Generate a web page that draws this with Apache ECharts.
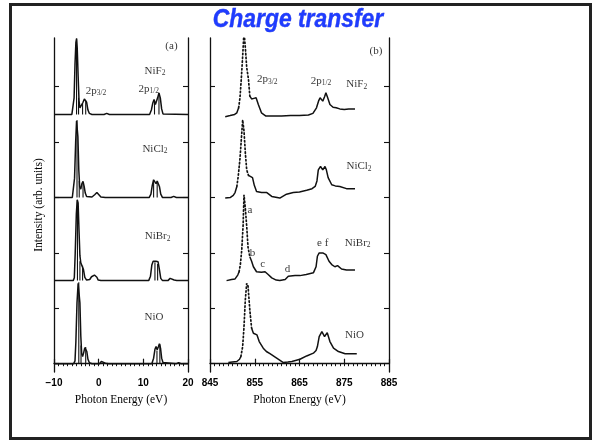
<!DOCTYPE html>
<html>
<head>
<meta charset="utf-8">
<script src="https://cdn.jsdelivr.net/npm/echarts@6/dist/echarts.min.js"></script>
<style>
  html, body { margin: 0; padding: 0; background: #fff; }
  #chart { width: 594px; height: 441px; }
</style>
</head>
<body>
<div id="chart"></div>
<script>
// tick labels
const xTicksA = [-10, 0, 10, 20]
const xTicksB = [845, 855, 865, 875, 885]
const yTicks = [0, 1, 2, 3, 4, 5]

// vertical offset of each stacked spectrum
const offsetNiF2 = 4.5
const offsetNiCl2 = 3.0
const offsetNiBr2 = 1.5
const offsetNiO = 0

// (a) calculated spectra: [eV, intensity above own baseline]
const calcNiF2 = [[-10,0],[-6,0],[-5.7,0.02],[-5.5,0.3],[-5.3,0.9],[-5.1,1.3],[-4.95,1.37],[-4.8,1.2],[-4.6,0.7],[-4.4,0.25],[-4.2,0.12],[-3.9,0.14],[-3.5,0.22],[-3.2,0.28],[-2.95,0.3],[-2.7,0.22],[-2.4,0.08],[-2.1,0.02],[-1.5,0],[1.2,0],[1.8,0.02],[2.4,0],[11.4,0],[11.8,0.08],[12.1,0.2],[12.4,0.27],[12.7,0.18],[12.9,0.15],[13.2,0.3],[13.5,0.39],[13.8,0.3],[14.1,0.1],[14.4,0.01],[20,0]]
const calcNiCl2 = [[-10,0],[-5.9,0],[-5.6,0.03],[-5.4,0.35],[-5.15,1.0],[-4.95,1.38],[-4.8,1.4],[-4.65,1.1],[-4.45,0.5],[-4.25,0.2],[-4.0,0.15],[-3.75,0.25],[-3.5,0.29],[-3.25,0.2],[-3.0,0.08],[-2.7,0.02],[-1.5,0.01],[-0.9,0.05],[-0.4,0.09],[0,0.06],[0.5,0.01],[1.5,0],[11.3,0],[11.7,0.06],[12.0,0.22],[12.3,0.32],[12.55,0.3],[12.85,0.25],[13.1,0.3],[13.35,0.32],[13.6,0.2],[13.9,0.06],[14.3,0],[16.2,0],[16.8,0.02],[17.4,0],[20,0]]
const calcNiBr2 = [[-10,0],[-5.7,0],[-5.45,0.05],[-5.25,0.5],[-5.0,1.2],[-4.8,1.46],[-4.6,1.4],[-4.4,0.9],[-4.2,0.45],[-4.0,0.32],[-3.7,0.29],[-3.4,0.2],[-3.1,0.06],[-2.7,0.01],[-2.0,0.02],[-1.6,0.07],[-1.3,0.06],[-0.95,0.1],[-0.7,0.12],[-0.4,0.06],[-0.1,0.01],[0.5,0],[11.2,0],[11.6,0.08],[11.9,0.28],[12.2,0.35],[12.8,0.35],[13.3,0.34],[13.6,0.2],[13.9,0.04],[14.3,0],[15.5,0],[16.0,0.04],[16.4,0.05],[16.9,0.01],[17.5,0],[20,0]]
const calcNiO = [[-10,0],[-5.6,0],[-5.3,0.05],[-5.1,0.4],[-4.85,1.1],[-4.6,1.45],[-4.4,1.47],[-4.2,1.1],[-4.0,0.5],[-3.8,0.18],[-3.6,0.13],[-3.35,0.2],[-3.1,0.29],[-2.9,0.31],[-2.65,0.22],[-2.4,0.08],[-2.1,0.02],[-1.5,0],[0.2,0],[0.6,0.04],[1.0,0.05],[1.5,0.01],[2.2,0],[11.9,0],[12.3,0.1],[12.6,0.26],[12.85,0.31],[13.1,0.25],[13.35,0.3],[13.6,0.36],[13.85,0.28],[14.1,0.1],[14.4,0.02],[14.8,0],[17.4,0],[17.9,0.02],[18.4,0],[20,0]]

// (a) line spectra (sticks): [eV, height]
const sticksNiF2 = [[-4.95,1.37],[-4.5,0.3],[-3.6,0.2],[-2.9,0.25],[12.5,0.22],[13.5,0.38]]
const sticksNiCl2 = [[-4.85,1.4],[-4.35,0.3],[-3.5,0.25],[12.3,0.3],[13.1,0.28]]
const sticksNiBr2 = [[-4.75,1.45],[-4.2,0.35],[-3.6,0.27],[12.6,0.33],[13.2,0.3]]
const sticksNiO = [[-4.45,1.47],[-3.95,0.33],[-2.9,0.3],[13.05,0.24],[13.7,0.35]]

// (b) measured spectra: [eV, intensity above own baseline]
const expNiF2 = [[848.4,-0.04],[849.5,-0.02],[850.5,0],[851.0,0.03],[851.4,0.12],[851.7,0.3],[852.0,0.65],[852.3,1.05],[852.6,1.5],[852.9,1.2],[853.2,0.85],[853.6,0.63],[853.9,0.33],[854.3,0.28],[854.8,0.29],[855.3,0.3],[855.8,0.18],[856.5,0.03],[857.5,-0.03],[859,-0.03],[861,-0.03],[863,-0.02],[865,-0.02],[867,-0.01],[868,0.02],[868.8,0.12],[869.3,0.25],[869.6,0.3],[870.2,0.24],[870.6,0.32],[870.9,0.39],[871.3,0.3],[871.8,0.18],[872.5,0.13],[873.2,0.12],[874,0.1],[875,0.09],[876,0.1],[877.4,0.1]]
const expNiCl2 = [[848.4,-0.01],[849.5,0],[850.2,0.04],[850.6,0.09],[851.0,0.2],[851.3,0.38],[851.7,0.7],[852.0,1.05],[852.3,1.4],[852.6,1.2],[852.9,0.8],[853.2,0.5],[853.6,0.4],[853.9,0.38],[854.5,0.36],[854.9,0.22],[855.4,0.11],[856.5,0.09],[857.7,0.09],[858.8,0.02],[860.6,-0.01],[862.1,0.06],[863.6,0.09],[865,0.1],[866.6,0.13],[867.8,0.16],[868.5,0.2],[868.9,0.3],[869.2,0.5],[869.7,0.56],[870.2,0.5],[870.7,0.56],[871.0,0.5],[871.4,0.36],[872.2,0.23],[873,0.21],[874,0.2],[875.5,0.16],[877.4,0.16]]
const expNiBr2 = [[848.7,0],[849.8,0.02],[850.6,0.03],[851.2,0.1],[851.5,0.16],[851.8,0.3],[852.1,0.56],[852.4,1.0],[852.6,1.55],[852.9,1.3],[853.2,0.98],[853.5,0.6],[853.9,0.43],[854.3,0.35],[854.7,0.25],[855.4,0.16],[856.5,0.15],[857.3,0.16],[858.0,0.11],[858.8,0.05],[859.8,0.01],[860.6,0],[861.8,0.02],[862.5,0.08],[864,0.09],[865.1,0.09],[866.5,0.11],[868.1,0.14],[868.7,0.25],[869.0,0.44],[869.4,0.5],[869.8,0.48],[870.2,0.5],[870.9,0.47],[871.6,0.35],[872.2,0.29],[872.9,0.25],[873.5,0.27],[874.4,0.21],[875.5,0.19],[877.4,0.19]]
const expNiO = [[849.1,0.02],[850,0.03],[851,0.04],[851.6,0.08],[851.9,0.13],[852.3,0.31],[852.6,0.67],[852.9,1.16],[853.2,1.45],[853.5,1.4],[853.9,0.97],[854.3,0.64],[854.7,0.55],[855.1,0.52],[855.5,0.52],[856,0.4],[856.9,0.28],[857.6,0.22],[858.4,0.18],[859.9,0.1],[861.4,0.02],[862.4,0.03],[863.3,0.04],[865.1,0.08],[866.6,0.14],[868.1,0.19],[868.7,0.24],[869,0.31],[869.4,0.49],[870,0.58],[870.6,0.49],[871.2,0.56],[871.8,0.4],[872.6,0.28],[873.7,0.22],[875.2,0.18],[877.8,0.18]]

// steep edge of each measured spectrum, printed as dots in the scan
const edgeNiF2 = [851.4, 853.9]
const edgeNiCl2 = [851.0, 853.6]
const edgeNiBr2 = [851.5, 853.9]
const edgeNiO = [851.9, 854.3]

// annotations: [text, eV, intensity]
const notesA = [
  ['(a)', 16.3, 5.73],
  ['NiF{s|2}', 12.6, 5.29],
  ['2p{s|3/2}', -0.6, 4.93],
  ['2p{s|1/2}', 11.2, 4.96],
  ['NiCl{s|2}', 12.6, 3.88],
  ['NiBr{s|2}', 13.2, 2.30],
  ['NiO', 12.4, 0.84]
]
const notesB = [
  ['(b)', 882.1, 5.65],
  ['2p{s|3/2}', 857.8, 5.13],
  ['2p{s|1/2}', 869.8, 5.11],
  ['NiF{s|2}', 877.8, 5.04],
  ['NiCl{s|2}', 878.3, 3.56],
  ['a', 853.9, 2.78],
  ['b', 854.5, 2.0],
  ['c', 856.8, 1.79],
  ['d', 862.3, 1.71],
  ['e f', 870.2, 2.18],
  ['NiBr{s|2}', 878.0, 2.18],
  ['NiO', 877.3, 0.52]
]

const SERIF = '"Liberation Serif", "DejaVu Serif", serif'
const SANS = '"Liberation Sans", Arial, sans-serif'
const INK = '#000000'

/**
 * 加基线偏移
 */
function shift(points, base) {
  return points.map(p => [p[0], p[1] + base])
}

/**
 * 竖线谱：每根线 base -> base+h，中间用 '-' 断开
 */
function buildSticks(sticks, base) {
  const out = []
  sticks.forEach(s => {
    out.push([s[0], base], [s[0], base + s[1]], [s[0], '-'])
  })
  return out
}

/**
 * 把测量谱拆成实线部分和点线部分
 */
function splitEdge(points, edge, base) {
  const pts = shift(points, base)
  const before = pts.filter(p => p[0] <= edge[0])
  const after = pts.filter(p => p[0] >= edge[1])
  const dotted = pts.filter(p => p[0] >= edge[0] && p[0] <= edge[1])
  const solid = before.concat([[(edge[0] + edge[1]) / 2, '-']], after)
  return { solid, dotted }
}

function lineSeries(data, xIdx, yIdx, style) {
  return {
    type: 'line',
    xAxisIndex: xIdx,
    yAxisIndex: yIdx,
    data: data,
    symbol: 'none',
    silent: true,
    connectNulls: false,
    lineStyle: Object.assign({ color: '#111', width: 1.2 }, style || {}),
    z: 3
  }
}

function noteSeries(notes, xIdx, yIdx) {
  return {
    type: 'scatter',
    xAxisIndex: xIdx,
    yAxisIndex: yIdx,
    symbolSize: 1,
    silent: true,
    itemStyle: { color: 'rgba(0,0,0,0)' },
    data: notes.map(n => ({
      value: [n[1], n[2]],
      label: { formatter: n[0] }
    })),
    label: {
      show: true,
      position: 'inside',
      color: INK,
      fontFamily: SERIF,
      fontSize: 11,
      rich: {
        s: { fontFamily: SERIF, fontSize: 7.5, color: INK, verticalAlign: 'bottom', padding: [5, 0, 0, 0] }
      }
    },
    z: 5
  }
}

const ints = (a, b) => { const r = []; for (let v = a; v <= b; v++) r.push(v); return r }

function xMajor(gridIndex, min, max, ticks) {
  return {
    type: 'value', gridIndex, min, max,
    axisLine: { show: true, lineStyle: { color: '#111', width: 1.3 } },
    axisTick: { show: true, inside: true, length: 5, customValues: ticks, lineStyle: { color: '#111', width: 1.2 } },
    axisLabel: {
      show: true, customValues: ticks, margin: 6,
      color: INK, fontFamily: SANS, fontWeight: 'bold', fontSize: 10,
      formatter: v => String(v).replace('-', '\u2212')
    },
    splitLine: { show: false },
    name: 'Photon Energy (eV)',
    nameLocation: 'middle',
    nameGap: 22,
    nameTextStyle: { color: INK, fontFamily: SERIF, fontSize: 11.5 }
  }
}

function xMinor(gridIndex, min, max) {
  return {
    type: 'value', gridIndex, min, max,
    axisLine: { show: false },
    axisTick: { show: true, inside: true, length: 2.5, customValues: ints(min, max), lineStyle: { color: '#111', width: 1 } },
    axisLabel: { show: false },
    splitLine: { show: false }
  }
}

function yFrame(gridIndex, position, withName) {
  const ax = {
    type: 'value', gridIndex, position, min: -0.15, max: 5.88,
    axisLine: { show: true, onZero: false, lineStyle: { color: '#111', width: 1.3 } },
    axisTick: { show: true, inside: true, length: 5, customValues: yTicks, lineStyle: { color: '#111', width: 1.1 } },
    axisLabel: { show: false },
    splitLine: { show: false }
  }
  if (withName) {
    ax.name = 'Intensity (arb. units)'
    ax.nameLocation = 'middle'
    ax.nameGap = 9
    ax.nameRotate = 90
    ax.nameTextStyle = { color: INK, fontFamily: SERIF, fontSize: 11.5 }
  }
  return ax
}

const chart = echarts.init(document.getElementById('chart'), null, { renderer: 'canvas' })

const series = []
// (a): xAxis 0, yAxis 0
const calcSets = [[calcNiF2, sticksNiF2, offsetNiF2], [calcNiCl2, sticksNiCl2, offsetNiCl2], [calcNiBr2, sticksNiBr2, offsetNiBr2], [calcNiO, sticksNiO, offsetNiO]]
calcSets.forEach(([curve, sticks, base]) => {
  series.push(lineSeries(shift(curve, base), 0, 0, { width: 1.5 }))
  series.push(lineSeries(buildSticks(sticks, base), 0, 0, { width: 1.1 }))
})
// (b): xAxis 2, yAxis 2
const expSets = [[expNiF2, edgeNiF2, offsetNiF2], [expNiCl2, edgeNiCl2, offsetNiCl2], [expNiBr2, edgeNiBr2, offsetNiBr2], [expNiO, edgeNiO, offsetNiO]]
expSets.forEach(([pts, edge, base]) => {
  const parts = splitEdge(pts, edge, base)
  series.push(lineSeries(parts.solid, 2, 2, { width: 1.5 }))
  series.push(lineSeries(parts.dotted, 2, 2, { width: 1.7, type: [1.4, 2.4], cap: 'round' }))
})
series.push(noteSeries(notesA, 0, 0))
series.push(noteSeries(notesB, 2, 2))

const option = {
  animation: false,
  backgroundColor: '#ffffff',
  grid: [
    { left: 54, top: 38, width: 134, height: 334, containLabel: false, outerBoundsMode: 'none' },
    { left: 210, top: 38, width: 179, height: 334, containLabel: false, outerBoundsMode: 'none' }
  ],
  xAxis: [
    xMajor(0, -10, 20, xTicksA),
    xMinor(0, -10, 20),
    xMajor(1, 845, 885, xTicksB),
    xMinor(1, 845, 885)
  ],
  yAxis: [
    yFrame(0, 'left', true),
    yFrame(0, 'right', false),
    yFrame(1, 'left', false),
    yFrame(1, 'right', false)
  ],
  graphic: [
    {
      type: 'rect',
      shape: { x: 10.5, y: 4.5, width: 580, height: 434 },
      style: { fill: 'none', stroke: '#222', lineWidth: 3 },
      silent: true
    },
    {
      type: 'text',
      x: 298, y: 20,
      scaleX: 0.88,
      style: {
        text: 'Charge transfer',
        font: 'italic bold 26px "Liberation Sans", Arial, sans-serif',
        fill: '#1f3cff',
        stroke: '#1a2ccc',
        lineWidth: 0.4,
        align: 'center',
        verticalAlign: 'middle'
      },
      silent: true
    }
  ],
  series: series
}

chart.setOption(option)
</script>
</body>
</html>
